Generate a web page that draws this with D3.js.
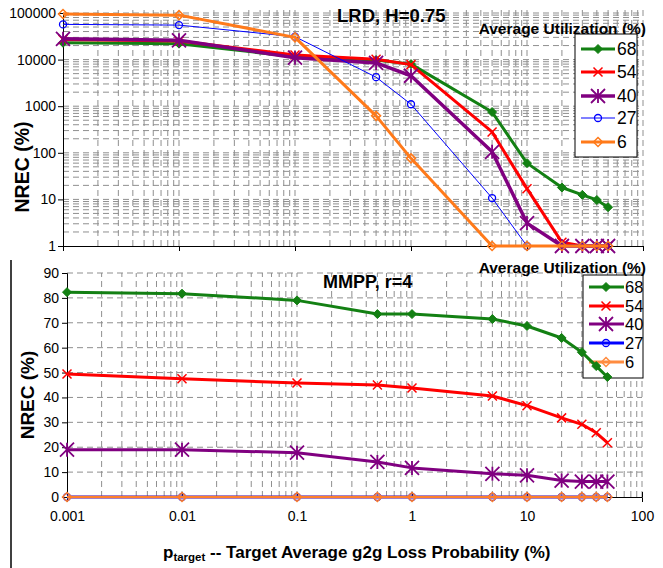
<!DOCTYPE html>
<html>
<head>
<meta charset="utf-8">
<script src="https://cdn.jsdelivr.net/npm/d3@7"></script>
<style>
  body { margin: 0; background: #fff; }
  svg { font-family: "Liberation Sans", Arial, sans-serif; }
</style>
</head>
<body>
<svg width="663" height="568"></svg>
<script>
// x values: target loss probability (%)
var ptarget = [0.001, 0.01, 0.1, 0.5, 1, 5, 10, 20, 30, 40, 50];
var utilization = ["68", "54", "40", "27", "6"];

// LRD, H=0.75 (log scale NREC %)
var lrd68 = [23000, 22000, 11500, 9800, 8000, 750, 60, 18, 12.5, 9.7, 6.8];
var lrd54 = [27000, 25000, 12500, 10200, 7800, 280, 17, 1.2, 1, 1, 1];
var lrd40 = [28000, 26000, 11000, 8500, 4500, 105, 3.1, 1, 1, 1, 1];
var lrd27 = [57000, 55000, 31000, 4200, 1100, 10.7, 1, 1, 1, 1, 1];
var lrd6  = [95000, 90000, 30000, 620, 76, 1, 1, 1, 1, 1, 1];

// MMPP, r=4 (linear NREC %)
var mmpp68 = [82.3, 81.7, 79, 73.5, 73.5, 71.5, 68.7, 63.9, 58.2, 52.6, 48.2];
var mmpp54 = [49.4, 47.5, 45.8, 45, 43.8, 40.6, 36.7, 31.8, 29.2, 25.8, 21.8];
var mmpp40 = [19, 19, 17.8, 14.1, 11.7, 9.3, 8.7, 6.6, 6.2, 6.2, 6.2];
var mmpp27 = [0, 0, 0, 0, 0, 0, 0, 0, 0, 0, 0];
var mmpp6  = [0, 0, 0, 0, 0, 0, 0, 0, 0, 0, 0];

var yTicksTop = [1, 10, 100, 1000, 10000, 100000];
var yTicksBot = [0, 10, 20, 30, 40, 50, 60, 70, 80, 90];
var xTicks = [0.001, 0.01, 0.1, 1, 10, 100];

var svg = d3.select("svg");

// style per series (top / bottom widths differ a bit)
var styles = {
  "68": {color: "#138013", marker: "diamondFill", wTop: 3, wBot: 3},
  "54": {color: "#ff0000", marker: "x", wTop: 3, wBot: 3},
  "40": {color: "#800080", marker: "star", wTop: 3.5, wBot: 3},
  "27": {color: "#0000ff", marker: "circle", wTop: 1, wBot: 3},
  "6":  {color: "#ff7a1a", marker: "diamond", wTop: 3, wBot: 2.5}
};

function drawMarker(g, type, x, y, color) {
  if (type == "diamondFill" || type == "diamond") {
    var r = 4.5;
    g.append("path")
      .attr("d", "M" + x + "," + (y - r) + "L" + (x + r) + "," + y + "L" + x + "," + (y + r) + "L" + (x - r) + "," + y + "Z")
      .attr("fill", type == "diamondFill" ? color : "none")
      .attr("stroke", color).attr("stroke-width", type == "diamondFill" ? 1 : 1.5);
  } else if (type == "x") {
    var r = 4.5;
    g.append("path")
      .attr("d", "M" + (x - r) + "," + (y - r) + "L" + (x + r) + "," + (y + r) + "M" + (x - r) + "," + (y + r) + "L" + (x + r) + "," + (y - r))
      .attr("stroke", color).attr("stroke-width", 1.5);
  } else if (type == "star") {
    var r = 7;
    g.append("path")
      .attr("d", "M" + (x - r) + "," + (y - r) + "L" + (x + r) + "," + (y + r) + "M" + (x - r) + "," + (y + r) + "L" + (x + r) + "," + (y - r) + "M" + x + "," + (y - r) + "L" + x + "," + (y + r))
      .attr("stroke", color).attr("stroke-width", 1.8);
  } else if (type == "circle") {
    g.append("circle").attr("cx", x).attr("cy", y).attr("r", 3.5)
      .attr("fill", "none").attr("stroke", color).attr("stroke-width", 1.3);
  }
}

function logMinors(lo, hi) {
  var out = [];
  for (var d = lo; d < hi; d *= 10) {
    for (var k = 1; k < 10; k++) out.push(d * k);
  }
  out.push(hi);
  return out;
}

// ---------------- top panel: LRD ----------------
var xTop = d3.scaleLog().domain([0.001, 100]).range([63, 643]);
var yTop = d3.scaleLog().domain([1, 100000]).range([246, 13]);
var topG = svg.append("g");

var gridTop = topG.append("g").attr("stroke", "#8f8f8f").attr("stroke-dasharray", "6,4").attr("stroke-width", 1);
gridTop.selectAll(".hy").data(logMinors(1, 100000).filter(function(v) { return v > 1; }))
  .enter().append("line")
  .attr("x1", xTop(0.001)).attr("x2", xTop(100))
  .attr("y1", function(d) { return yTop(d); }).attr("y2", function(d) { return yTop(d); });
gridTop.selectAll(".vx").data(logMinors(0.001, 100).filter(function(v) { return v > 0.001; }))
  .enter().append("line")
  .attr("x1", function(d) { return xTop(d); }).attr("x2", function(d) { return xTop(d); })
  .attr("y1", yTop(1)).attr("y2", yTop(100000) - 3);

var yAxisTop = d3.axisLeft(yTop).tickValues(yTicksTop).tickFormat(d3.format("d")).tickSizeOuter(0).tickSize(5);
topG.append("g").attr("transform", "translate(63,0)").call(yAxisTop)
  .call(function(g) {
    g.select(".domain").attr("stroke", "#000");
    g.selectAll("text").attr("font-size", 14).attr("fill", "#000").attr("x", -7);
  });
var xAxisTop = d3.axisBottom(xTop).tickValues(xTicks).tickFormat("").tickSizeOuter(0).tickSize(5);
topG.append("g").attr("transform", "translate(0,246)").call(xAxisTop);

var seriesTop = [lrd68, lrd54, lrd40, lrd27, lrd6];
var lineTop = d3.line().x(function(d, i) { return xTop(ptarget[i]); }).y(function(d) { return yTop(d); });
seriesTop.forEach(function(vals, si) {
  var st = styles[utilization[si]];
  var g = topG.append("g");
  g.append("path").datum(vals).attr("d", lineTop)
    .attr("fill", "none").attr("stroke", st.color).attr("stroke-width", st.wTop).attr("stroke-linejoin", "round");
  vals.forEach(function(v, i) { drawMarker(g, st.marker, xTop(ptarget[i]), yTop(v), st.color); });
});

topG.append("text").attr("x", 337).attr("y", 22).attr("font-size", 18.5).attr("font-weight", "bold").text("LRD, H=0.75");
topG.append("text").attr("x", 646).attr("y", 34).attr("text-anchor", "end").attr("font-size", 15.5).attr("font-weight", "bold").text("Average Utilization (%)");
topG.append("text").attr("transform", "translate(29,167) rotate(-90)").attr("text-anchor", "middle")
  .attr("font-size", 19.5).attr("font-weight", "bold").text("NREC (%)");

// legend top
var legTop = topG.append("g");
legTop.append("rect").attr("x", 575).attr("y", 34).attr("width", 62).attr("height", 123)
  .attr("fill", "#fff").attr("stroke", "#000").attr("stroke-width", 1);
var legTopY = [49, 72, 96, 118, 142];
utilization.forEach(function(u, i) {
  var st = styles[u];
  legTop.append("line").attr("x1", 581).attr("x2", 615).attr("y1", legTopY[i]).attr("y2", legTopY[i])
    .attr("stroke", st.color).attr("stroke-width", st.wTop);
  drawMarker(legTop, st.marker, 598, legTopY[i], st.color);
  legTop.append("text").attr("x", 617).attr("y", legTopY[i] + 6).attr("font-size", 17.5).text(u);
});

// ---------------- bottom panel: MMPP ----------------
var xBot = d3.scaleLog().domain([0.001, 100]).range([67, 642]);
var yBot = d3.scaleLinear().domain([0, 90]).range([497, 273]);
var bot = svg.append("g");

// separator line
svg.append("line").attr("x1", 11).attr("x2", 11).attr("y1", 260).attr("y2", 568).attr("stroke", "#000").attr("stroke-width", 1.5);

var gridBot = bot.append("g").attr("stroke", "#8f8f8f").attr("stroke-dasharray", "6,4").attr("stroke-width", 1);
gridBot.selectAll(".hy").data(yTicksBot.filter(function(v) { return v > 0; }))
  .enter().append("line")
  .attr("x1", xBot(0.001)).attr("x2", xBot(100))
  .attr("y1", function(d) { return yBot(d); }).attr("y2", function(d) { return yBot(d); });
gridBot.selectAll(".vx").data(logMinors(0.001, 100).filter(function(v) { return v > 0.001; }))
  .enter().append("line")
  .attr("x1", function(d) { return xBot(d); }).attr("x2", function(d) { return xBot(d); })
  .attr("y1", yBot(0)).attr("y2", yBot(90));

var yAxisBot = d3.axisLeft(yBot).tickValues(yTicksBot).tickSizeOuter(0).tickSize(5);
bot.append("g").attr("transform", "translate(67,0)").call(yAxisBot)
  .call(function(g) { g.selectAll("text").attr("font-size", 14).attr("fill", "#000").attr("x", -8); });
var xAxisBot = d3.axisBottom(xBot).tickValues(xTicks).tickFormat(function(d) { return String(d); }).tickSizeOuter(0).tickSize(5);
bot.append("g").attr("transform", "translate(0,497)").call(xAxisBot)
  .call(function(g) {
    g.selectAll(".tick line").attr("y1", -5).attr("y2", 0);
    g.selectAll("text").attr("font-size", 14).attr("fill", "#000").attr("y", 14);
  });

// legend bottom (box under the data lines)
var legBot = bot.append("g");
legBot.append("rect").attr("x", 583).attr("y", 275).attr("width", 60).attr("height", 103)
  .attr("fill", "#fff").attr("stroke", "#000").attr("stroke-width", 1);

var seriesBot = [mmpp68, mmpp54, mmpp40, mmpp27, mmpp6];
var lineBot = d3.line().x(function(d, i) { return xBot(ptarget[i]); }).y(function(d) { return yBot(d); });
[3, 4, 2, 1, 0].forEach(function(si) {
  var vals = seriesBot[si];
  var st = styles[utilization[si]];
  var color = utilization[si] == "6" ? "#ff7f2a" : st.color;
  var g = bot.append("g");
  g.append("path").datum(vals).attr("d", lineBot)
    .attr("fill", "none").attr("stroke", color).attr("stroke-width", st.wBot).attr("stroke-linejoin", "round");
  vals.forEach(function(v, i) { drawMarker(g, st.marker, xBot(ptarget[i]), yBot(v), color); });
});

var legBotY = [287, 306, 324, 343, 362];
utilization.forEach(function(u, i) {
  var st = styles[u];
  var color = u == "6" ? "#ff8c40" : st.color;
  legBot.append("line").attr("x1", 589).attr("x2", 624).attr("y1", legBotY[i]).attr("y2", legBotY[i])
    .attr("stroke", color).attr("stroke-width", 3);
  drawMarker(legBot, st.marker, 606, legBotY[i], color);
  legBot.append("text").attr("x", 625).attr("y", legBotY[i] + 6).attr("font-size", 16.5).text(u);
});

bot.append("text").attr("x", 323).attr("y", 288).attr("font-size", 18).attr("font-weight", "bold").text("MMPP, r=4");
bot.append("text").attr("x", 646).attr("y", 273).attr("text-anchor", "end").attr("font-size", 15.5).attr("font-weight", "bold").text("Average Utilization (%)");
bot.append("text").attr("transform", "translate(34,395) rotate(-90)").attr("text-anchor", "middle")
  .attr("font-size", 19).attr("font-weight", "bold").text("NREC (%)");

var xt = bot.append("text").attr("x", 163).attr("y", 558).attr("font-size", 17).attr("font-weight", "bold");
xt.append("tspan").text("p");
xt.append("tspan").attr("font-size", 11.5).attr("dy", 3).text("target");
xt.append("tspan").attr("dy", -3).text(" -- Target Average g2g Loss Probability (%)");
</script>
</body>
</html>
